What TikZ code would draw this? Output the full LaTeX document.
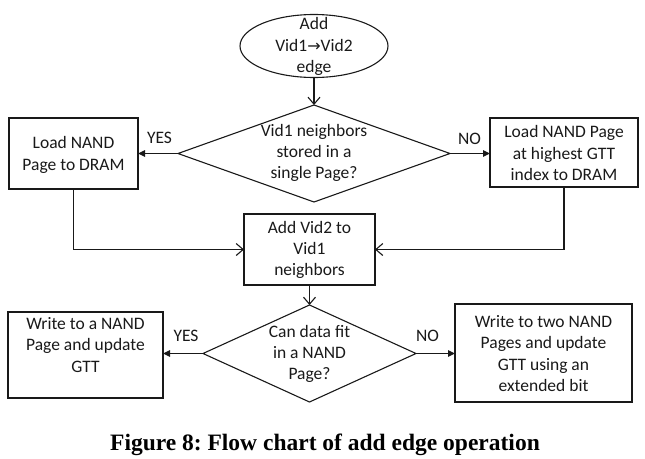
\documentclass[tikz,border=0pt]{standalone}
\usepackage{fontspec}
\setmainfont{Carlito}
\newfontfamily\capfont{Liberation Serif}
\newfontfamily\symfont{DejaVu Sans}
\usetikzlibrary{shapes.geometric,arrows.meta}
\frenchspacing
\begin{document}
\begin{tikzpicture}[x=1pt,y=-1pt,
  shp/.style={draw=black!90, line width=1.1pt, inner sep=0pt, outer sep=0pt},
  txt/.style={font=\fontsize{17.5}{21.4}\selectfont, text=black!90, align=center, inner sep=0pt},
  openarr/.style={draw=black!90, line width=1.1pt, -{Straight Barb[length=7pt,width=12pt]}},
  fillarr/.style={draw=black!90, line width=1.1pt, -{Triangle[length=7pt,width=6.5pt]}},
  lbl/.style={font=\fontsize{17.5}{20}\selectfont, text=black!90, inner sep=0pt}]
\useasboundingbox (0,0) rectangle (645,458);

% shapes
\node[shp, ellipse, minimum width=148pt, minimum height=63pt] (ell) at (314,46) {};
\node[txt] (ellt) at (314,46.5) {Add\\Vid1{\symfont\fontsize{16}{17}\selectfont →}Vid2\\edge};

\node[shp, diamond, minimum width=272pt, minimum height=97pt] (d1) at (314,153.5) {};
\node[txt] (d1t) at (314,153) {Vid1 neighbors\\stored in a\\single Page?};

\node[shp, rectangle, minimum width=129pt, minimum height=71pt] (l1) at (73.5,153.5) {};
\node[txt] (l1t) at (73.5,155) {Load NAND\\Page to DRAM};

\node[shp, rectangle, minimum width=148pt, minimum height=69pt] (r1) at (564,152.5) {};
\node[txt] (r1t) at (564,153) {Load NAND Page\\at highest GTT\\index to DRAM};

\node[shp, rectangle, minimum width=131pt, minimum height=71pt] (add) at (309.5,249.5) {};
\node[txt] (addt) at (309.5,250) {Add Vid2 to\\Vid1\\neighbors};

\node[shp, diamond, minimum width=213pt, minimum height=97pt] (d2) at (309.5,353.5) {};
\node[txt] (d2t) at (309.5,354) {Can data fit\\in a NAND\\Page?};

\node[shp, rectangle, minimum width=155pt, minimum height=86pt] (l2) at (85.5,355) {};
\node[txt] (l2t) at (85.5,345) {Write to a NAND\\Page and update\\GTT};

\node[shp, rectangle, minimum width=177pt, minimum height=98pt] (r2) at (543.5,353) {};
\node[txt] (r2t) at (543.5,353.5) {Write to two NAND\\Pages and update\\GTT using an\\extended bit};

% labels
\node[lbl] (yes1) at (159.5,138) {YES};
\node[lbl] (no1) at (469.5,139) {NO};
\node[lbl] (yes2) at (186,336) {YES};
\node[lbl] (no2) at (427.5,336) {NO};

% connectors
\draw[openarr] (ell.south) -- (d1.north);
\draw[fillarr] (d1.west) -- (d1.west -| l1.east);
\draw[fillarr] (d1.east) -- (d1.east -| r1.west);
\draw[openarr] (l1.south) |- (add.west);
\draw[openarr] (r1.south) |- (add.east);
\draw[openarr] (add.south) -- (add.south |- d2.north);
\draw[fillarr] (d2.west) -- (d2.west -| l2.east);
\draw[fillarr] (d2.east) -- (d2.east -| r2.west);

% caption
\node[font=\capfont\bfseries\fontsize{23.5}{28}\selectfont, anchor=base, inner sep=0pt] (cap) at (325,450) {Figure 8: Flow chart of add edge operation};
\end{tikzpicture}
\end{document}
